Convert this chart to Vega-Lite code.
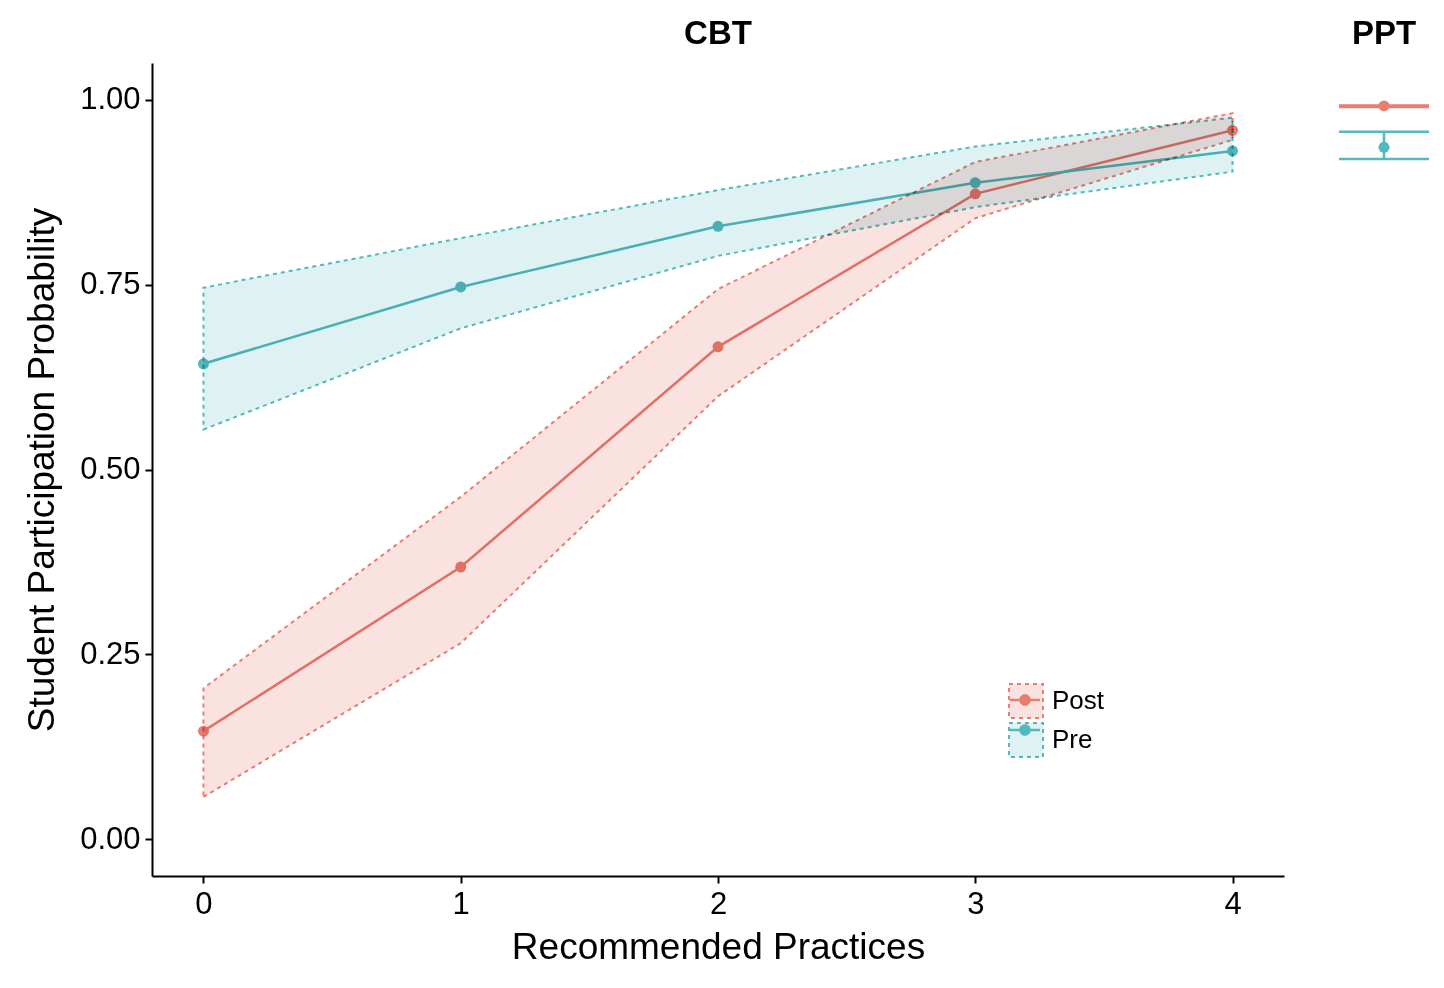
{
  "$schema": "https://vega.github.io/schema/vega-lite/v6.json",
  "autosize": {"type": "pad"},
  "padding": {"left": 23, "top": 18, "right": 5, "bottom": 5},
  "background": "white",
  "config": {
    "view": {"stroke": null},
    "font": "Liberation Sans",
    "axis": {
      "grid": false,
      "domainColor": "black",
      "domainWidth": 2,
      "tickColor": "black",
      "tickWidth": 2,
      "tickSize": 7,
      "labelColor": "black",
      "labelFont": "Liberation Sans",
      "labelFontSize": 31,
      "titleColor": "black",
      "titleFont": "Liberation Sans",
      "titleFontSize": 37,
      "titleFontWeight": "normal"
    },
    "title": {"font": "Liberation Sans", "fontSize": 33, "fontWeight": "bold", "color": "black", "anchor": "middle", "offset": 12}
  },
  "datasets": {
    "cbt": [
      {"time": "Post", "x": 0, "est": 0.146, "lo": 0.057, "hi": 0.204},
      {"time": "Post", "x": 1, "est": 0.368, "lo": 0.265, "hi": 0.463},
      {"time": "Post", "x": 2, "est": 0.666, "lo": 0.599, "hi": 0.744},
      {"time": "Post", "x": 3, "est": 0.873, "lo": 0.840, "hi": 0.916},
      {"time": "Post", "x": 4, "est": 0.959, "lo": 0.946, "hi": 0.982},
      {"time": "Pre", "x": 0, "est": 0.643, "lo": 0.554, "hi": 0.746},
      {"time": "Pre", "x": 1, "est": 0.747, "lo": 0.691, "hi": 0.813},
      {"time": "Pre", "x": 2, "est": 0.829, "lo": 0.789, "hi": 0.878},
      {"time": "Pre", "x": 3, "est": 0.888, "lo": 0.855, "hi": 0.937},
      {"time": "Pre", "x": 4, "est": 0.931, "lo": 0.903, "hi": 0.976}
    ],
    "ppt": [
      {"time": "Post", "slot": "PPT", "est": 0.992, "lo": 0.9905, "hi": 0.9925},
      {"time": "Pre", "slot": "PPT", "est": 0.936, "lo": 0.920, "hi": 0.957}
    ]
  },
  "resolve": {
    "scale": {"x": "independent", "y": "independent", "color": "independent", "fill": "independent", "stroke": "independent"},
    "legend": {"color": "independent", "fill": "independent", "stroke": "independent"}
  },
  "spacing": 53,
  "hconcat": [
    {
      "width": 1132,
      "height": 813,
      "title": {"text": "CBT"},
      "data": {"name": "cbt"},
      "encoding": {
        "x": {
          "field": "x", "type": "quantitative",
          "scale": {"domain": [-0.2, 4.2], "nice": false, "zero": false},
          "axis": {"values": [0, 1, 2, 3, 4], "format": "d", "title": "Recommended Practices", "labelPadding": 6, "titlePadding": 10}
        }
      },
      "layer": [
        {
          "mark": {"type": "line", "strokeWidth": 2.5},
          "encoding": {
            "y": {
              "field": "est", "type": "quantitative",
              "scale": {"domain": [-0.05, 1.05], "nice": false, "zero": false},
              "axis": {"values": [0, 0.25, 0.5, 0.75, 1], "format": ".2f", "title": "Student Participation Probability", "labelPadding": 5, "titlePadding": 18}
            },
            "stroke": {"field": "time", "type": "nominal"}
          }
        },
        {
          "mark": {"type": "point", "filled": true, "size": 120, "opacity": 1},
          "encoding": {
            "y": {"field": "est", "type": "quantitative"},
            "fill": {
              "field": "time", "type": "nominal",
              "scale": {"range": ["#E87D72", "#53B9BE"]},
              "legend": {
                "orient": "none", "legendX": 856, "legendY": 620, "title": null, "padding": 0,
                "symbolType": "M-0.88,-0.075H0.88V0.075H-0.88ZM0.34,0A0.34,0.34,0,1,1,-0.34,0A0.34,0.34,0,1,1,0.34,0Z",
                "symbolSize": 1156, "symbolStrokeWidth": 0, "rowPadding": -3,
                "labelFontSize": 26, "labelOffset": 8, "labelExpr": "''"
              }
            }
          }
        },
        {
          "mark": {"type": "area", "blend": "multiply", "strokeDash": [4, 4], "strokeWidth": 2},
          "encoding": {
            "y": {"field": "lo", "type": "quantitative"},
            "y2": {"field": "hi"},
            "color": {
              "field": "time", "type": "nominal",
              "scale": {"domain": ["Post", "Pre"], "range": ["#F9E2E0", "#DFF2F3"]},
              "legend": {
                "orient": "none", "legendX": 856, "legendY": 620, "title": null, "padding": 0,
                "symbolType": "square", "symbolSize": 1156, "symbolDash": [4, 4], "symbolStrokeWidth": 2,
                "rowPadding": -3, "labelFontSize": 26, "labelOffset": 8, "labelColor": "black", "labelFont": "Liberation Sans"
              }
            },
            "stroke": {
              "field": "time", "type": "nominal",
              "scale": {"domain": ["Post", "Pre"], "range": ["#E87D72", "#53B9BE"]},
              "legend": {
                "orient": "none", "legendX": 856, "legendY": 620, "title": null, "padding": 0,
                "symbolType": "square", "symbolSize": 1156, "symbolDash": [4, 4], "symbolStrokeWidth": 2,
                "rowPadding": -3, "labelFontSize": 26, "labelOffset": 8, "labelColor": "black", "labelFont": "Liberation Sans"
              }
            }
          }
        }
      ]
    },
    {
      "width": 90,
      "height": 813,
      "title": {"text": "PPT"},
      "data": {"name": "ppt"},
      "layer": [
        {
          "mark": {"type": "rule", "strokeWidth": 2.5},
          "encoding": {
            "y": {"field": "lo", "type": "quantitative", "scale": {"domain": [-0.05, 1.05], "nice": false, "zero": false}, "axis": null},
            "color": {"field": "time", "type": "nominal", "scale": {"domain": ["Post", "Pre"], "range": ["#E87D72", "#53B9BE"]}, "legend": null}
          }
        },
        {
          "mark": {"type": "rule", "strokeWidth": 2.5},
          "encoding": {
            "y": {"field": "hi", "type": "quantitative"},
            "color": {"field": "time", "type": "nominal", "legend": null}
          }
        },
        {
          "mark": {"type": "rule", "strokeWidth": 2.5},
          "encoding": {
            "x": {"field": "slot", "type": "nominal", "axis": null},
            "y": {"field": "lo", "type": "quantitative"},
            "y2": {"field": "hi"},
            "color": {"field": "time", "type": "nominal", "legend": null}
          }
        },
        {
          "mark": {"type": "point", "filled": true, "size": 120, "opacity": 1},
          "encoding": {
            "x": {"field": "slot", "type": "nominal", "axis": null},
            "y": {"field": "est", "type": "quantitative"},
            "color": {"field": "time", "type": "nominal", "legend": null}
          }
        }
      ]
    }
  ]
}
